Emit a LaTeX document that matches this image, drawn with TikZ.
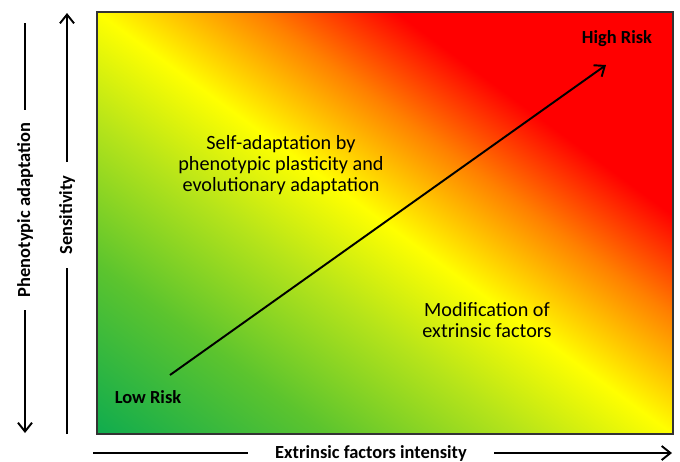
\documentclass[tikz,border=0pt]{standalone}
\usepackage{fontspec}
\setmainfont{Carlito}
\usetikzlibrary{arrows.meta}

\definecolor{riskgreen}{RGB}{16,172,78}
\definecolor{riskleaf}{RGB}{92,196,46}
\definecolor{risklime}{RGB}{182,228,26}
\definecolor{riskyellow}{RGB}{255,255,0}
\definecolor{riskorange}{RGB}{255,128,0}
\definecolor{riskred}{RGB}{255,0,0}
\pgfdeclarehorizontalshading{riskshade}{100bp}{color(0bp)=(riskgreen); color(14.64bp)=(riskgreen);
  color(28.8bp)=(riskleaf); color(40.8bp)=(risklime); color(50bp)=(riskyellow);
  color(59.9bp)=(riskorange); color(68.4bp)=(riskred); color(100bp)=(riskred)}

\begin{document}
\begin{tikzpicture}[x=0.02cm,y=-0.02cm,>={Straight Barb[length=5pt,width=8pt]},line width=1.1pt,
  axislabel/.style={font=\bfseries\fontsize{10.5}{12}\selectfont,inner ysep=0pt},
  risklabel/.style={font=\bfseries\fontsize{10.5}{12}\selectfont},
  zonetext/.style={align=center,font=\fontsize{11.5}{11.8}\selectfont}]
  \useasboundingbox (0,0) rectangle (680,461);
  % diagonal colour field, stretched along the box diagonal
  \begin{scope}
    \clip (97,12) rectangle (673,434);
    \begin{scope}[shift={(385,223)}]
      \pgftransformcm{4.603}{3.372}{4.603}{-3.372}{\pgfpointorigin}
      \pgflowlevelsynccm
      \pgfuseshading{riskshade}
    \end{scope}
  \end{scope}
  \draw[black!80,line width=0.8pt] (97,12) rectangle (673,434);

  % axes
  \coordinate (pa top) at (25,23);
  \coordinate (pa bottom) at (25,433);
  \node[axislabel,rotate=90,inner xsep=7pt] (pa) at (25,210) {Phenotypic adaptation};
  \draw (pa top) -- (pa);
  \draw[->] (pa) -- (pa bottom);

  \coordinate (sens bottom) at (67,434);
  \coordinate (sens top) at (67,13);
  \node[axislabel,rotate=90,inner xsep=7pt] (sens) at (67,215) {Sensitivity};
  \draw (sens bottom) -- (sens);
  \draw[->] (sens) -- (sens top);

  \coordinate (ext left) at (93,453);
  \coordinate (ext right) at (672,453);
  \node[axislabel,inner xsep=15pt] (ext) at (371,453) {Extrinsic factors intensity};
  \draw (ext left) -- (ext);
  \draw[->] (ext) -- (ext right);

  % risk
  \node[risklabel] (low) at (148,397) {Low Risk};
  \node[risklabel] (high) at (617,39) {High Risk};
  \coordinate (riskstart) at (170,375);
  \coordinate (riskend) at (606,65);
  \draw[->] (riskstart) -- (riskend);

  \node[zonetext] (self) at (281,165) {Self-adaptation by\\phenotypic plasticity and\\evolutionary adaptation};
  \node[zonetext] (modif) at (487,320) {Modification of\\extrinsic factors};
\end{tikzpicture}
\end{document}
